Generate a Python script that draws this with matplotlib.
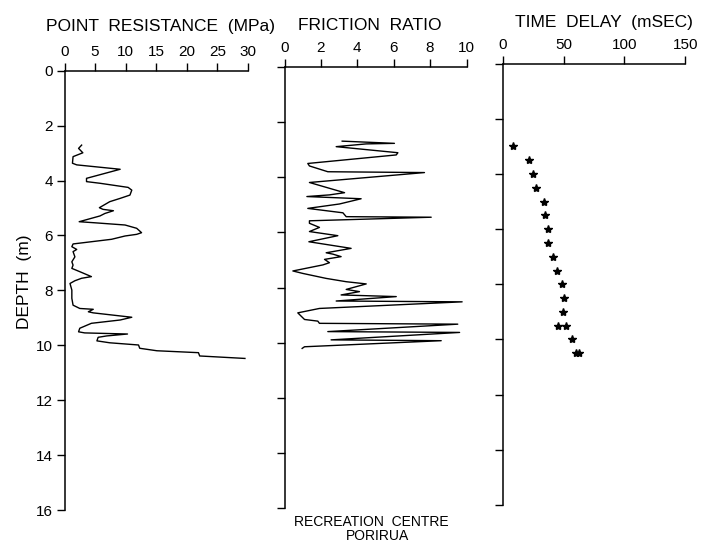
import matplotlib
matplotlib.use("Agg")
import matplotlib.pyplot as plt

# ---- data -----------------------------------------------------------------
# Cone point resistance (MPa) against depth (m)
qc_depth = [2.71, 2.83, 2.99, 3.13, 3.37, 3.43, 3.59, 3.92, 4.04, 4.10, 4.25,
            4.35, 4.53, 4.65, 4.77, 4.99, 5.05, 5.10, 5.20, 5.29, 5.50, 5.54,
            5.62, 5.74, 5.90, 5.96, 6.02, 6.14, 6.31, 6.41, 6.51, 6.59, 6.78,
            6.96, 7.08, 7.20, 7.32, 7.50, 7.56, 7.65, 7.75, 7.99, 8.29, 8.54,
            8.66, 8.69, 8.78, 8.82, 8.98, 9.08, 9.20, 9.38, 9.51, 9.55, 9.59,
            9.66, 9.71, 9.84, 9.91, 9.99, 10.11, 10.20, 10.27, 10.39, 10.48]
qc_value = [2.8, 2.3, 3.0, 1.4, 1.3, 2.0, 9.1, 3.6, 3.6, 5.8, 10.4,
            11.0, 10.7, 9.1, 7.4, 5.7, 6.3, 8.0, 6.6, 5.8, 2.4, 5.0,
            9.9, 11.8, 12.6, 11.8, 9.9, 7.7, 1.4, 1.2, 2.0, 1.4, 1.7,
            1.2, 1.4, 1.2, 2.5, 4.4, 2.8, 1.7, 0.9, 1.2, 1.2, 1.4,
            2.5, 4.7, 3.9, 4.7, 11.0, 9.1, 4.4, 2.5, 2.3, 3.3, 10.3,
            6.9, 5.5, 5.3, 7.4, 12.1, 12.3, 15.1, 21.9, 22.1, 29.5]

# Friction ratio against depth (m)
fr_depth = [2.69, 2.77, 2.79, 2.89, 3.11, 3.19, 3.50, 3.59, 3.80, 3.83, 4.19,
            4.56, 4.64, 4.70, 4.78, 4.97, 5.13, 5.29, 5.43, 5.45, 5.58, 5.67,
            5.82, 5.97, 6.12, 6.34, 6.58, 6.74, 6.79, 6.88, 6.98, 7.10, 7.18,
            7.40, 7.49, 7.67, 7.79, 7.87, 8.07, 8.15, 8.27, 8.33, 8.49, 8.52,
            8.76, 8.92, 9.16, 9.22, 9.30, 9.33, 9.60, 9.63, 9.90, 9.93, 10.15,
            10.21]
fr_value = [3.17, 6.04, 4.49, 2.84, 6.23, 6.14, 1.28, 1.37, 2.38, 7.69, 1.37,
            3.30, 2.47, 1.23, 4.21, 3.02, 1.28, 3.21, 3.39, 8.06, 1.37, 1.37,
            1.92, 1.37, 2.93, 1.34, 3.66, 2.29, 2.66, 3.11, 2.20, 2.47, 2.11,
            0.46, 1.01, 2.29, 3.39, 4.49, 3.39, 4.12, 3.11, 6.14, 2.84, 9.76,
            1.92, 0.73, 1.10, 1.83, 1.92, 9.52, 2.38, 9.62, 2.56, 8.61, 1.10,
            0.97]

# Seismic time delay (ms) against depth (m)
td_depth = [3.0, 3.5, 4.0, 4.5, 5.0, 5.5, 6.0, 6.5, 7.0, 7.5, 8.0, 8.5, 9.0,
            9.5, 9.5, 10.0, 10.5, 10.5]
td_value = [8.7, 21.8, 24.6, 27.3, 34.1, 34.9, 37.1, 37.7, 41.5, 44.8, 48.4,
            50.8, 49.4, 45.3, 52.1, 57.1, 60.6, 62.5]

depth_ticks = list(range(0, 17, 2))
qc_ticks = [0, 5, 10, 15, 20, 25, 30]
fr_ticks = [0, 2, 4, 6, 8, 10]
td_ticks = [0, 50, 100, 150]

# ---- figure ---------------------------------------------------------------
W, H = 712, 546
plt.rcParams['font.family'] = ['Liberation Sans', 'DejaVu Sans']
fig = plt.figure(figsize=(W / 100, H / 100), dpi=100)


def panel(left, top, right, bottom, xmax, xticks, ylabels):
    ax = fig.add_axes([left / W, 1 - bottom / H, (right - left) / W,
                       (bottom - top) / H])
    ax.set_xlim(0, xmax)
    ax.set_ylim(16, 0)
    ax.xaxis.tick_top()
    ax.set_xticks(xticks)
    ax.set_yticks(depth_ticks)
    for s in ('right', 'bottom'):
        ax.spines[s].set_visible(False)
    for s in ('left', 'top'):
        ax.spines[s].set_linewidth(1.1)
    ax.tick_params(direction='out', length=5.8, width=1.0, pad=2.5,
                   labelsize=11, colors='black')
    if not ylabels:
        ax.set_yticklabels([])
    ax.patch.set_alpha(0)
    return ax


ax1 = panel(64.5, 70.7, 248.0, 510.0, 30, qc_ticks, True)
ax2 = panel(284.5, 67.0, 466.5, 508.0, 10, fr_ticks, False)
ax3 = panel(502.5, 63.6, 685.5, 505.0, 150, td_ticks, False)

ax1.plot(qc_value, qc_depth, color='black', lw=1.0)
ax2.plot(fr_value, fr_depth, color='black', lw=1.0)
ax3.plot(td_value, td_depth, linestyle='none', marker='*', ms=6,
         color='black')

# panel headings
fig.text(160.7 / W, 1 - 27 / H, 'POINT  RESISTANCE  (MPa)', ha='center',
         va='center', fontsize=12.5)
fig.text(370 / W, 1 - 25 / H, 'FRICTION  RATIO', ha='center',
         va='center', fontsize=12.5)
fig.text(603.5 / W, 1 - 23 / H, 'TIME  DELAY  (mSEC)', ha='center',
         va='center', fontsize=12.5)

fig.text(25 / W, 1 - 282 / H, 'DEPTH  (m)', rotation=90, ha='center',
         va='center', fontsize=12.5)

fig.text(371.7 / W, 1 - 521.7 / H, 'RECREATION  CENTRE', ha='center',
         va='center', fontsize=10)
fig.text(377.5 / W, 1 - 535.5 / H, 'PORIRUA', ha='center', va='center',
         fontsize=10)

fig.savefig('out.png', dpi=100, facecolor='white')
